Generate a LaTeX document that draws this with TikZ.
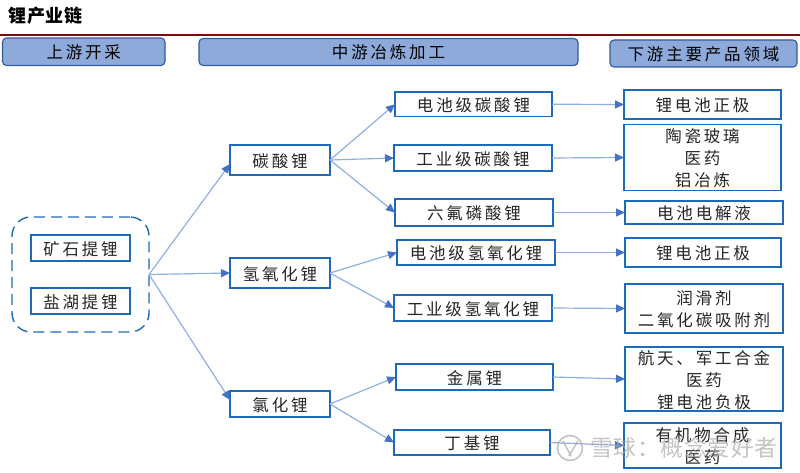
\documentclass[tikz,border=0pt]{standalone}
\usepackage{fontspec}
\setmainfont{Liberation Sans}
\newfontfamily\cjk[LetterSpace=17]{Noto Sans CJK SC}
\newfontfamily\cjkt[LetterSpace=3]{Noto Sans CJK SC}
\usetikzlibrary{arrows.meta,calc}
\definecolor{hdfill}{HTML}{8EAADB}
\definecolor{hdline}{HTML}{2F5C9E}
\definecolor{bxline}{HTML}{1F6AB8}
\definecolor{arrline}{HTML}{8FAFE3}
\definecolor{arrhead}{HTML}{4472C4}
\definecolor{rule}{HTML}{7B0C0C}
\definecolor{wm}{HTML}{ABABAB}
\tikzset{
  bx/.style={draw=bxline,line width=1.4pt,fill=white,inner sep=0pt,outer sep=0pt,
    font=\cjk\fontsize{16.5}{22}\selectfont,text=black!85},
  hd/.style={draw=hdline,line width=1.1pt,fill=hdfill,rounded corners=4pt,inner sep=0pt,outer sep=0pt,
    font=\cjk\fontsize{16.5}{20}\selectfont,text=black},
  arr/.style={draw=arrline,line width=1.2pt,-{Triangle[length=9pt,width=8pt,color=arrhead,fill=arrhead]}},
}
\newcommand\lns[1]{\raisebox{-7pt}[0pt][0pt]{\begin{tabular}{@{}c@{}}#1\end{tabular}}}
\newcommand\bxn[6]{\node[bx,minimum width={(#4-#2)*1pt},minimum height={(#5-#3)*1pt}] (#1) at ({(#2+#4)/2},{(#3+#5)/2}) {\lns{#6}};}
\newcommand\hdn[6]{\node[hd,minimum width={(#4-#2)*1pt},minimum height={(#5-#3)*1pt}] (#1) at ({(#2+#4)/2},{(#3+#5)/2}) {\lns{#6}};}
\begin{document}
\begin{tikzpicture}[x=1pt,y=-1pt]
\useasboundingbox (0,0) rectangle (800,473);
% title and rule
\node[anchor=west,inner sep=0pt,font=\cjkt\bfseries\fontsize{18}{20}\selectfont] (title) at (8.5,16) {锂产业链};
\coordinate (rl) at (0,35); \coordinate (rr) at (800,35);
\draw[rule,line width=1.6pt] (rl) -- (rr);
% headers
\hdn{h1}{2.5}{38}{165}{65.5}{上游开采}
\hdn{h2}{199}{38.5}{578}{65.5}{中游冶炼加工}
\hdn{h3}{610}{40}{797}{67}{下游主要产品领域}
% source group
\node[draw=bxline,line width=1.4pt,dash pattern=on 11pt off 6pt,rounded corners=19pt,
  minimum width=137pt,minimum height=115pt,inner sep=0pt,outer sep=0pt] (src) at (80.5,274.5) {};
\bxn{s1}{31}{235}{130}{261}{矿石提锂}
\bxn{s2}{31}{288}{130}{314}{盐湖提锂}
% first level
\bxn{a1}{230}{145}{330}{175}{碳酸锂}
\bxn{a2}{230}{258}{330}{288}{氢氧化锂}
\bxn{a3}{230}{391}{330}{417}{氯化锂}
% second level
\bxn{b1}{395}{92}{552}{116.5}{电池级碳酸锂}
\bxn{b2}{394}{145}{552}{171}{工业级碳酸锂}
\bxn{b3}{395}{199}{553}{226}{六氟磷酸锂}
\bxn{b4}{397}{240}{555}{265}{电池级氢氧化锂}
\bxn{b5}{394}{295}{552}{321}{工业级氢氧化锂}
\bxn{b6}{396}{364}{553}{390}{金属锂}
\bxn{b7}{394}{430}{550}{455}{丁基锂}
% products
\bxn{c1}{624}{90}{781}{119}{锂电池正极}
\bxn{c2}{624}{124.5}{781}{190.5}{陶瓷玻璃\\医药\\铝冶炼}
\bxn{c3}{625}{201}{783}{224}{电池电解液}
\bxn{c4}{625}{238}{781}{267}{锂电池正极}
\bxn{c5}{625}{284}{783}{333}{润滑剂\\二氧化碳吸附剂}
\bxn{c6}{625}{347}{783}{411}{航天、军工合金\\医药\\锂电池负极}
\bxn{c7}{624}{423}{781}{468}{有机物合成\\医药}
% connectors
\draw[arr] (src.east) -- ($(a1.west)+(0,4)$);
\draw[arr] (src.east) -- (a2.west);
\draw[arr] (src.east) -- ($(a3.west)+(0,-4)$);
\draw[arr] (a1.east) -- (b1.west);
\draw[arr] (a1.east) -- (b2.west);
\draw[arr] (a1.east) -- (b3.west);
\draw[arr] (a2.east) -- (b4.west);
\draw[arr] (a2.east) -- (b5.west);
\draw[arr] (a3.east) -- (b6.west);
\draw[arr] (a3.east) -- (b7.west);
\draw[arr] (b1.east) -- (c1.west);
\draw[arr] (b2.east) -- (c2.west);
\draw[arr] (b3.east) -- (c3.west);
\draw[arr] (b4.east) -- (c4.west);
\draw[arr] (b5.east) -- (c5.west);
\draw[arr] (b6.east) -- (c6.west);
\draw[arr] (b7.east) -- (c7.west);
% watermark
\draw[wm,line width=1.6pt,opacity=.7] (570,448) circle (12.5);
\draw[wm,line width=1.6pt,opacity=.7] (563,441) -- (571,456) (578,441) -- (569,456);
\node[anchor=west,inner sep=0pt,opacity=.7,text=wm,font=\cjkt\fontsize{22.8}{24}\selectfont] (wmk) at (590,448) {雪球：概念爱好者};
\end{tikzpicture}
\end{document}
